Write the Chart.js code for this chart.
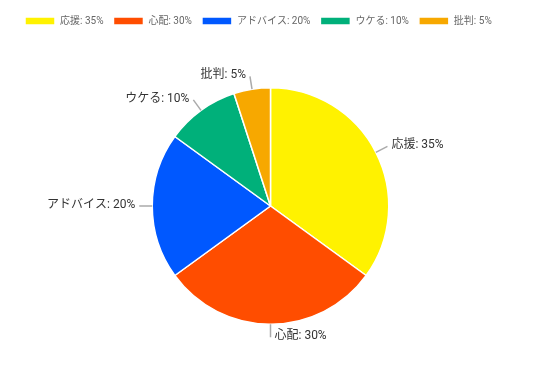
<!DOCTYPE html>
<html><head><meta charset="utf-8">
<script src="https://cdn.jsdelivr.net/npm/chart.js@4"></script>
<style>html,body{margin:0;padding:0;background:#fff}#wrap{width:541px;height:383px}</style>
</head><body><div id="wrap"><canvas id="c"></canvas></div>
<script>
const categories = ['応援', '心配', 'アドバイス', 'ウケる', '批判'];
const values = [35, 30, 20, 10, 5];
const colors = ['#FFF200', '#FF4D00', '#0058FF', '#00B07A', '#F7A800'];
const labels = categories.map((c, i) => c + ': ' + values[i] + '%');

const legendGap = {
  id: 'legendGap',
  beforeInit(chart) {
    const orig = chart.legend.fit;
    chart.legend.fit = function () { orig.call(this); this.height += 51; };
  }
};

const outLabels = {
  id: 'outLabels',
  afterDatasetsDraw(chart) {
    const ctx = chart.ctx;
    const meta = chart.getDatasetMeta(0);
    ctx.save();
    ctx.font = '12px Roboto, "Noto Sans CJK JP", sans-serif';
    ctx.textBaseline = 'middle';
    meta.data.forEach((arc, i) => {
      const mid = (arc.startAngle + arc.endAngle) / 2;
      const r = arc.outerRadius;
      const cx = arc.x, cy = arc.y;
      const x1 = cx + Math.cos(mid) * r, y1 = cy + Math.sin(mid) * r;
      const x2 = cx + Math.cos(mid) * (r + 13), y2 = cy + Math.sin(mid) * (r + 13);
      ctx.strokeStyle = '#aaaaaa';
      ctx.lineWidth = 1.5;
      ctx.beginPath(); ctx.moveTo(x1, y1); ctx.lineTo(x2, y2); ctx.stroke();
      ctx.fillStyle = '#333333';
      const right = Math.cos(mid) >= -0.01;
      ctx.textAlign = right ? 'left' : 'right';
      ctx.fillText(labels[i], x2 + (right ? 4 : -4), y2 - 1);
    });
    ctx.restore();
  }
};

new Chart(document.getElementById('c'), {
  type: 'pie',
  data: {
    labels: labels,
    datasets: [{ data: values, backgroundColor: colors, borderColor: '#ffffff', borderWidth: 1.5 }]
  },
  options: {
    responsive: true,
    maintainAspectRatio: false,
    animation: false,
    layout: { padding: { top: 6, bottom: 58, left: 15, right: 15 } },
    plugins: {
      legend: {
        position: 'top',
        align: 'start',
        labels: { boxWidth: 30, boxHeight: 8, color: '#666', font: { size: 10, family: 'Roboto, "Noto Sans CJK JP", sans-serif' } }
      },
      tooltip: { enabled: false }
    }
  },
  plugins: [legendGap, outLabels]
});
</script></body></html>
